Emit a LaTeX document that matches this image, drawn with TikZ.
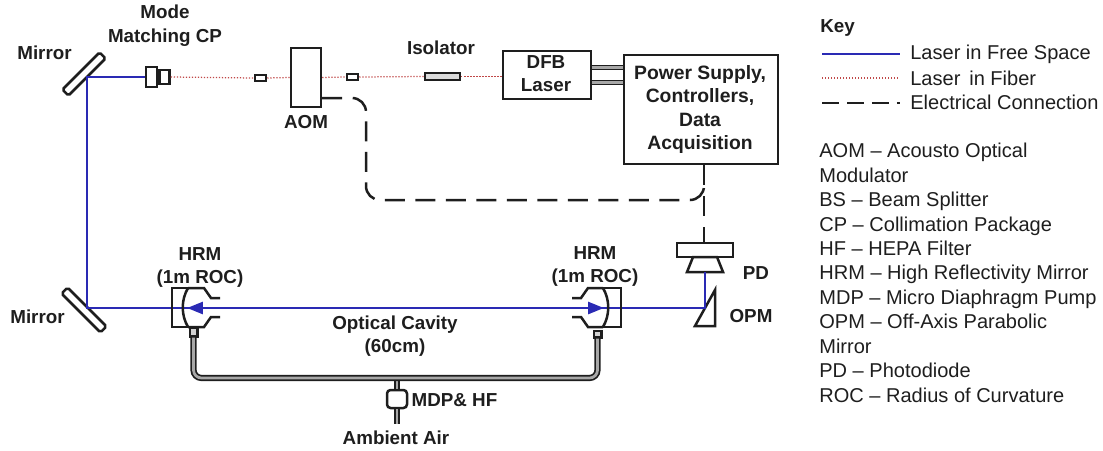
\documentclass[tikz,border=0pt]{standalone}
\usepackage{fontspec}
\setmainfont{Liberation Sans}
\usepackage{xcolor}
\usetikzlibrary{arrows.meta, positioning, calc}
\definecolor{beamblue}{HTML}{2A2AB4}
\definecolor{fiberred}{HTML}{C04848}
\definecolor{inkdraw}{HTML}{1E1E1E}
\definecolor{tubegray}{HTML}{A8A8A8}
\tikzset{
  blk/.style={rectangle, draw=inkdraw, fill=white, line width=0.05cm, align=center, inner sep=0pt},
  lab/.style={font=\fontsize{10.7}{13.5}\selectfont\bfseries, text=inkdraw, align=center, inner sep=0pt},
  keytxt/.style={font=\fontsize{11.4}{13.9}\selectfont, text=inkdraw, align=left, inner sep=0pt},
  beam/.style={line width=0.055cm, draw=beamblue},
  beamarr/.style={beam, -{Triangle[length=0.32cm,width=0.24cm]}},
  fiber/.style={line width=0.025cm, draw=fiberred, densely dotted},
  elec/.style={line width=0.05cm, draw=inkdraw, dash pattern=on 0.4cm off 0.21cm},
  wire/.style={line width=0.03cm, draw=inkdraw, double=tubegray, double distance=0.05cm},
  tube/.style={line width=0.035cm, draw=inkdraw, double=tubegray, double distance=0.055cm, rounded corners=0.16cm},
  optic/.style={line width=0.05cm, draw=inkdraw},
}
\begin{document}
\begin{tikzpicture}[x=0.02cm, y=-0.02cm]
  \useasboundingbox (0,0) rectangle (1103,450);
  % upper row
  \node[blk, rotate=45, minimum width=1.05cm, minimum height=0.17cm, rounded corners=1pt] (mirrort) at (84,74) {};
  \node[blk, minimum width=0.22cm, minimum height=0.4cm] (cpa) at (151.5,77) {};
  \node[blk, minimum width=0.2cm, minimum height=0.28cm, right=0pt of cpa] (cpb) {};
  \node[blk, minimum width=0.22cm, minimum height=0.12cm] (splicea) at (260.5,78) {};
  \node[blk, minimum width=0.6cm, minimum height=1.18cm] (aom) at (306,77.5) {};
  \node[blk, minimum width=0.22cm, minimum height=0.12cm] (spliceb) at (352.5,77) {};
  \node[blk, minimum width=0.7cm, minimum height=0.14cm, fill=tubegray!40] (iso) at (442.5,76.5) {};
  \node[blk, minimum width=1.76cm, minimum height=0.96cm] (dfb) at (547,75) {};
  \node[lab] (dfbtxt) at (546,73.5) {DFB\\Laser};
  \node[blk, minimum width=3.08cm, minimum height=2.18cm] (psu) at (701,109.5) {};
  \node[lab, font=\fontsize{11}{13.4}\selectfont\bfseries] (psutxt) at (700,109.5) {Power Supply,\\Controllers,\\Data\\Acquisition};
  % lower row
  \node[blk, rotate=-45, minimum width=1.1cm, minimum height=0.17cm, rounded corners=1pt] (mirrorb) at (84,310) {};
  \node[blk, minimum width=1.12cm, minimum height=0.28cm] (pd) at (705,250) {};
  \coordinate (conetl) at (693,257);
  \coordinate (conetr) at (717,257);
  \coordinate (conebr) at (723,272);
  \coordinate (conebl) at (687,272);
  \coordinate (conemid) at (705,272);
  \coordinate (opmtop) at (715,290);
  \coordinate (opmbr) at (715,326);
  \coordinate (opmbl) at (695,326);
  \coordinate (opmhit) at (705,308);
  \coordinate (cavmid) at (395,308);
  \coordinate (hrmltip) at (187,308);
  \coordinate (hrmrtip) at (604,308);
  \coordinate (turnt) at (87,77);
  \coordinate (turnb) at (87,308);
  % fiber
  \draw[fiber] (cpb.east) -- (splicea.west);
  \draw[fiber] (splicea.east) -- (aom.west);
  \draw[fiber] (aom.east) -- (spliceb.west);
  \draw[fiber] (spliceb.east) -- (iso.west);
  \draw[fiber] (iso.east) -- (dfb.west |- iso.east);
  \draw[wire] (dfb.east |- 0,67.5) -- (psu.west |- 0,67.5);
  \draw[wire] (dfb.east |- 0,82.5) -- (psu.west |- 0,82.5);
  % electrical
  \draw[elec, rounded corners=0.28cm] (aom.east |- 0,98) -- (366,98) -- (366,200) -- (704,200) -- (704,191);
  \draw[elec, dash pattern=on 0.4cm off 0.22cm] (psu.south -| 704,0) -- (pd.north -| 704,0);
  % detector and off axis mirror
  \draw[optic, fill=white] (conetl) -- (conetr) -- (conebr) -- (conebl) -- cycle;
  \draw[optic, fill=white] (opmtop) -- (opmbr) -- (opmbl) -- cycle;
  % beams
  \draw[beam] (cpa.west) -- (turnt) -- (turnb) -- (opmhit) -- (conemid);
  \draw[beamarr] (cavmid) -- (hrmltip);
  \draw[beamarr] (cavmid) -- (hrmrtip);
  % cavity mirrors
  \draw[optic] (188,288) -- (172,288) -- (172,327) -- (188,327);
  \draw[optic] (188,288) .. controls (181,300) and (181,315) .. (188,327);
  \draw[optic] (188,288) -- (204,288) -- (211,298) -- (220,298);
  \draw[optic] (188,327) -- (204,327) -- (211,317) -- (220,317);
  \draw[optic] (603,288) -- (621,288) -- (621,327) -- (603,327);
  \draw[optic] (603,288) .. controls (610,300) and (610,315) .. (603,327);
  \draw[optic] (603,288) -- (588,288) -- (581,298) -- (572,298);
  \draw[optic] (603,327) -- (588,327) -- (581,317) -- (572,317);
  % tube
  \node[blk, minimum width=0.15cm, minimum height=0.17cm, fill=tubegray!50] (portl) at (193.5,332) {};
  \node[blk, minimum width=0.15cm, minimum height=0.13cm, fill=tubegray!50] (portr) at (597.5,334) {};
  \node[blk, minimum width=0.4cm, minimum height=0.36cm, rounded corners=2pt] (mdp) at (397,399) {};
  \coordinate (tubel) at (193.5,378);
  \coordinate (tuber) at (597.5,378);
  \coordinate (tubetap) at (397,378);
  \coordinate (airin) at (397,424);
  \draw[wire] (tubetap) -- (mdp.north);
  \draw[wire] (mdp.south) -- (airin);
  \draw[tube] (portl.south) -- (tubel) -- (tuber) -- (portr.south);
  % labels
  \node[lab] (lbmirt) at (44.5,53) {Mirror};
  \node[lab] (lbmode) at (165,25.5) {Mode\\Matching CP};
  \node[lab] (lbaom) at (306,122) {AOM};
  \node[lab] (lbiso) at (441,48) {Isolator};
  \node[lab] (lbmirb) at (37.5,317) {Mirror};
  \node[lab] (lbhrml) at (200,267.5) {HRM\\(1m ROC)};
  \node[lab] (lbhrmr) at (595,266.5) {HRM\\(1m ROC)};
  \node[lab] (lbcav) at (395,336) {Optical Cavity\\(60cm)};
  \node[lab] (lbpd) at (756,273) {PD};
  \node[lab] (lbopm) at (751,316) {OPM};
  \node[lab] (lbmdp) at (454.5,400) {MDP\& HF};
  \node[lab] (lbair) at (396,438) {Ambient Air};
  % key
  \node[lab, anchor=west] (lbkey) at (820,28) {Key};
  \coordinate (keya) at (822,54);
  \coordinate (keyb) at (900,54);
  \coordinate (keyc) at (822,78);
  \coordinate (keyd) at (900,78);
  \coordinate (keye) at (822,103);
  \coordinate (keyf) at (900,103);
  \draw[beam] (keya) -- (keyb);
  \draw[fiber] (keyc) -- (keyd);
  \draw[elec, dash pattern=on 0.34cm off 0.16cm] (keye) -- (keyf);
  \node[keytxt, anchor=west] (txta) at (910,54) {Laser in Free Space};
  \node[keytxt, anchor=west] (txtb) at (910,78) {Laser\, in Fiber};
  \node[keytxt, anchor=west] (txtc) at (910,102) {Electrical Connection};
  \node[keytxt, anchor=north west] (glossary) at (819,143) {AOM – Acousto Optical\\Modulator\\BS – Beam Splitter\\CP – Collimation Package\\HF – HEPA Filter\\HRM – High Reflectivity Mirror\\MDP – Micro Diaphragm Pump\\OPM – Off-Axis Parabolic\\Mirror\\PD – Photodiode\\ROC – Radius of Curvature};
\end{tikzpicture}
\end{document}
